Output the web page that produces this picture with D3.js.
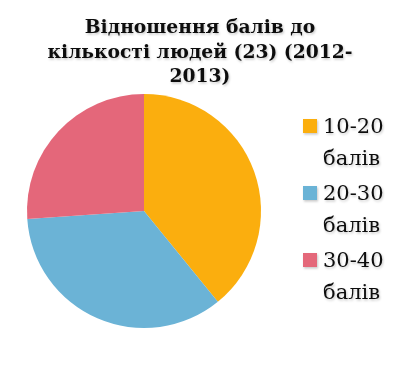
<!DOCTYPE html>
<html>
<head>
<meta charset="utf-8">
<script src="https://cdn.jsdelivr.net/npm/d3@7"></script>
<style>
  body { margin: 0; background: #fff; }
  text { font-family: "DejaVu Serif", "Liberation Serif", serif; fill: #111; }
</style>
</head>
<body>
<div id="chart"></div>
<script>
// дані
var categories = ["10-20 балів", "20-30 балів", "30-40 балів"];
var values = [9, 8, 6];
var colors = ["#FBAE0E", "#6BB3D6", "#E4677A"];
var titleLines = ["Відношення балів до", "кількості людей (23) (2012-", "2013)"];

var width = 399, height = 375;
var cx = 144, cy = 211, radius = 117;

var svg = d3.select("#chart")
  .append("svg")
  .attr("width", width)
  .attr("height", height);

// легка тінь для тексту
var defs = svg.append("defs");
var f = defs.append("filter").attr("id", "shadow")
  .attr("x", "-10%").attr("y", "-10%").attr("width", "130%").attr("height", "140%");
f.append("feDropShadow")
  .attr("dx", 1).attr("dy", 1.5).attr("stdDeviation", 1)
  .attr("flood-color", "#000").attr("flood-opacity", 0.22);

var data = categories.map(function(c, i) { return { name: c, value: values[i] }; });

var pie = d3.pie().sort(null).value(function(d) { return d.value; });
var arc = d3.arc().innerRadius(0).outerRadius(radius);

var color = d3.scaleOrdinal().domain(categories).range(colors);

var g = svg.append("g")
  .attr("transform", "translate(" + cx + "," + cy + ")");

g.selectAll("path")
  .data(pie(data))
  .enter().append("path")
  .attr("d", arc)
  .attr("fill", function(d) { return color(d.data.name); });

// заголовок
svg.append("g").attr("filter", "url(#shadow)")
  .selectAll("text")
  .data(titleLines)
  .enter().append("text")
  .attr("x", 200)
  .attr("y", function(d, i) { return 33 + i * 24.5; })
  .attr("text-anchor", "middle")
  .attr("font-size", "18.7px")
  .attr("font-weight", "bold")
  .text(function(d) { return d; });

// легенда
var legend = svg.append("g").attr("filter", "url(#shadow)")
  .selectAll(".legend")
  .data(categories)
  .enter().append("g")
  .attr("class", "legend")
  .attr("transform", function(d, i) { return "translate(303," + (119 + i * 67) + ")"; });

legend.append("rect")
  .attr("width", 14).attr("height", 14)
  .attr("fill", function(d) { return color(d); });

legend.append("text")
  .attr("x", 20).attr("y", 14)
  .attr("font-size", "21px")
  .text(function(d) { return d.split(" ")[0]; });

legend.append("text")
  .attr("x", 20).attr("y", 46)
  .attr("font-size", "21px")
  .text(function(d) { return d.split(" ")[1]; });
</script>
</body>
</html>
